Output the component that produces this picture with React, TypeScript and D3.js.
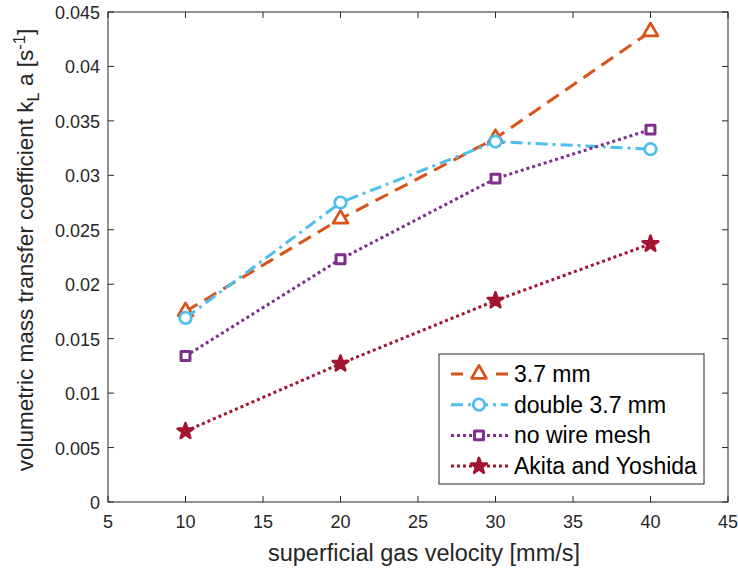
import React, { useEffect, useRef } from 'react'
import * as d3 from 'd3'

// superficial gas velocity [mm/s]
const velocity = [10, 20, 30, 40]

// kLa values per configuration [1/s]
const kla37 = [0.0175, 0.026, 0.0334, 0.0432]
const klaDouble = [0.0169, 0.0275, 0.0331, 0.0324]
const klaNoMesh = [0.0134, 0.0223, 0.0297, 0.0342]
const klaAkita = [0.0065, 0.0127, 0.0185, 0.0237]

const seriesNames = ['3.7 mm', 'double 3.7 mm', 'no wire mesh', 'Akita and Yoshida']

const xTicks = [5, 10, 15, 20, 25, 30, 35, 40, 45]
const yTicks = [0, 0.005, 0.01, 0.015, 0.02, 0.025, 0.03, 0.035, 0.04, 0.045]

const App = () => {
  const svgRef = useRef(null)

  useEffect(() => {
    document.body.style.margin = '0'
    const svg = d3.select(svgRef.current)
    svg.selectAll('*').remove()

    const left = 108
    const right = 728
    const top = 12
    const bottom = 502
    const font = 'Liberation Sans, Arial, Helvetica, sans-serif'
    const axisColor = '#262626'

    const x = d3.scaleLinear().domain([5, 45]).range([left, right])
    const y = d3.scaleLinear().domain([0, 0.045]).range([bottom, top])

    // white background + box
    svg.append('rect').attr('width', 738).attr('height', 568).attr('fill', '#fff')
    svg
      .append('rect')
      .attr('x', left)
      .attr('y', top)
      .attr('width', right - left)
      .attr('height', bottom - top)
      .attr('fill', 'none')
      .attr('stroke', axisColor)
      .attr('stroke-width', 1)

    const tickLen = 6
    const g = svg.append('g').attr('stroke', axisColor).attr('stroke-width', 1)
    xTicks.forEach((t) => {
      g.append('line').attr('x1', x(t)).attr('x2', x(t)).attr('y1', bottom).attr('y2', bottom - tickLen)
      g.append('line').attr('x1', x(t)).attr('x2', x(t)).attr('y1', top).attr('y2', top + tickLen)
    })
    yTicks.forEach((t) => {
      g.append('line').attr('x1', left).attr('x2', left + tickLen).attr('y1', y(t)).attr('y2', y(t))
      g.append('line').attr('x1', right).attr('x2', right - tickLen).attr('y1', y(t)).attr('y2', y(t))
    })

    svg
      .selectAll('.xlab')
      .data(xTicks)
      .join('text')
      .attr('class', 'xlab')
      .attr('x', (d) => x(d))
      .attr('y', bottom + 26)
      .attr('text-anchor', 'middle')
      .attr('font-family', font)
      .attr('font-size', 18)
      .attr('fill', axisColor)
      .text((d) => d)

    svg
      .selectAll('.ylab')
      .data(yTicks)
      .join('text')
      .attr('class', 'ylab')
      .attr('x', left - 8)
      .attr('y', (d) => y(d) + 7)
      .attr('text-anchor', 'end')
      .attr('font-family', font)
      .attr('font-size', 18)
      .attr('fill', axisColor)
      .text((d) => (d === 0 ? '0' : String(+d.toFixed(3))))

    svg
      .append('text')
      .attr('x', (left + right) / 2 + 6)
      .attr('y', 561)
      .attr('text-anchor', 'middle')
      .attr('font-family', font)
      .attr('font-size', 23.5)
      .attr('fill', axisColor)
      .text('superficial gas velocity [mm/s]')

    const yl = svg
      .append('text')
      .attr('transform', `translate(33, 250) rotate(-90)`)
      .attr('text-anchor', 'middle')
      .attr('font-family', font)
      .attr('font-size', 22.5)
      .attr('fill', axisColor)
    yl.append('tspan').text('volumetric mass transfer coefficient k')
    yl.append('tspan').attr('dy', 6).attr('font-size', 16.5).text('L')
    yl.append('tspan').attr('dy', -6).text(' a [s')
    yl.append('tspan').attr('dy', -8).attr('font-size', 16.5).text('-1')
    yl.append('tspan').attr('dy', 8).text(']')

    const series = [
      { name: seriesNames[0], values: kla37, color: '#D95319', dash: '14,8', marker: 'triangle', filled: false },
      { name: seriesNames[1], values: klaDouble, color: '#4DBEEE', dash: '12,5,3,5', marker: 'circle', filled: false },
      { name: seriesNames[2], values: klaNoMesh, color: '#7E2F8E', dash: '3,3', marker: 'square', filled: false },
      { name: seriesNames[3], values: klaAkita, color: '#A2142F', dash: '3,3', marker: 'star', filled: true },
    ]

    const drawMarker = (sel, m, cx, cy, color, filled) => {
      let shape
      if (m === 'triangle') shape = d3.symbol(d3.symbolTriangle, 95)
      else if (m === 'circle') shape = d3.symbol(d3.symbolCircle, 105)
      else if (m === 'square') shape = d3.symbol(d3.symbolSquare, 80)
      else shape = d3.symbol(d3.symbolStar, 75)
      sel
        .append('path')
        .attr('d', shape())
        .attr('transform', `translate(${cx},${cy})`)
        .attr('fill', filled ? color : '#fff')
        .attr('stroke', color)
        .attr('stroke-width', m === 'square' ? 3 : 2.7)
        .attr('stroke-linejoin', 'round')
    }

    const line = d3
      .line()
      .x((d) => x(d[0]))
      .y((d) => y(d[1]))

    series.forEach((s) => {
      const pts = velocity.map((v, i) => [v, s.values[i]])
      svg
        .append('path')
        .datum(pts)
        .attr('d', line)
        .attr('fill', 'none')
        .attr('stroke', s.color)
        .attr('stroke-width', 3)
        .attr('stroke-dasharray', s.dash)
      const mg = svg.append('g')
      pts.forEach((p) => drawMarker(mg, s.marker, x(p[0]), y(p[1]), s.color, s.filled))
    })

    // legend
    const lx = 439
    const ly = 354
    svg
      .append('rect')
      .attr('x', lx)
      .attr('y', ly)
      .attr('width', 265)
      .attr('height', 130)
      .attr('fill', '#fff')
      .attr('stroke', axisColor)
      .attr('stroke-width', 1)

    series.forEach((s, i) => {
      const cy = ly + 20 + i * 30.7
      svg
        .append('line')
        .attr('x1', lx + 12)
        .attr('x2', lx + 69)
        .attr('y1', cy)
        .attr('y2', cy)
        .attr('stroke', s.color)
        .attr('stroke-width', 3)
        .attr('stroke-dasharray', s.name === '3.7 mm' ? '12,33,12' : s.dash)
      drawMarker(svg, s.marker, lx + 40, cy, s.color, s.filled)
      svg
        .append('text')
        .attr('x', lx + 75)
        .attr('y', cy + 8)
        .attr('font-family', font)
        .attr('font-size', 23)
        .attr('fill', '#000')
        .text(s.name)
    })
  }, [])

  return <svg ref={svgRef} width={738} height={568} style={{ display: 'block' }} />
}

export default App
